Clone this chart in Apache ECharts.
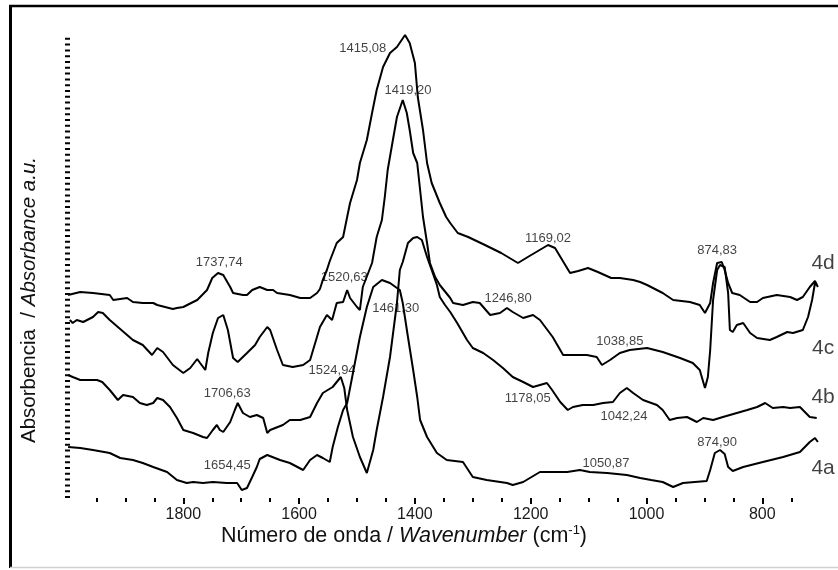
<!DOCTYPE html>
<html><head><meta charset="utf-8">
<script src="https://cdn.jsdelivr.net/npm/echarts@6/dist/echarts.min.js"></script>
<style>html,body{margin:0;padding:0;background:#fff}#c{width:838px;height:570px}</style>
</head><body><div id="c"></div>
<script>
const FONT = '"Liberation Sans", Arial, Helvetica, sans-serif';

// Wavenumbers (cm-1) and absorbance (a.u., offset stacked)
const wavenumber4d = [1999,1996,1978,1956,1927,1921,1897,1887,1870,1852,1845,1818,1811,1800,1783,1776,1759,1750,1740,1731,1719,1714,1697,1690,1681,1668,1655,1645,1638,1616,1598,1581,1569,1564,1559,1552,1547,1535,1524,1517,1512,1500,1495,1483,1474,1466,1455,1443,1431,1417,1409,1400,1395,1386,1379,1371,1357,1346,1339,1326,1308,1279,1251,1222,1205,1170,1158,1132,1118,1101,1084,1061,1046,1023,1011,999,972,954,925,908,899,890,885,878,870,865,859,852,839,821,809,799,775,752,740,730,718,709,704];
const absorbance4d = [2.03,2.05,2.06,2.05,2.03,1.98,2.00,1.96,1.95,1.95,1.93,1.89,1.90,1.91,1.96,1.98,2.08,2.20,2.25,2.23,2.11,2.05,2.03,2.03,2.08,2.11,2.08,2.08,2.05,2.03,2.00,2.00,2.05,2.09,2.18,2.28,2.37,2.55,2.61,2.81,2.95,3.18,3.35,3.58,3.85,4.08,4.31,4.45,4.51,4.63,4.55,4.35,4.01,3.68,3.35,3.15,2.95,2.81,2.75,2.65,2.61,2.53,2.45,2.35,2.41,2.53,2.50,2.25,2.27,2.30,2.26,2.20,2.20,2.18,2.16,2.13,2.05,1.98,1.96,1.93,1.85,1.95,2.15,2.35,2.36,2.28,2.15,2.05,2.03,1.96,1.96,2.00,2.03,2.01,1.98,2.01,2.11,2.17,2.11];

const wavenumber4c = [1996,1991,1984,1973,1956,1947,1939,1927,1897,1887,1870,1854,1845,1835,1818,1800,1788,1776,1771,1762,1757,1749,1740,1731,1723,1714,1706,1690,1676,1668,1655,1650,1638,1628,1611,1593,1581,1564,1552,1543,1535,1524,1517,1512,1500,1495,1490,1474,1466,1457,1452,1447,1438,1431,1421,1414,1409,1403,1396,1391,1386,1379,1374,1365,1357,1339,1334,1317,1300,1288,1270,1253,1241,1231,1213,1196,1184,1162,1144,1127,1103,1086,1077,1063,1046,1029,999,972,942,920,908,899,894,890,885,878,873,865,859,856,851,844,833,821,809,787,775,757,747,730,721,714,709,706];
const absorbance4c = [1.78,1.75,1.78,1.76,1.81,1.86,1.85,1.78,1.63,1.58,1.53,1.43,1.50,1.46,1.33,1.25,1.30,1.39,1.35,1.28,1.45,1.65,1.80,1.83,1.68,1.40,1.36,1.45,1.53,1.61,1.71,1.68,1.48,1.33,1.31,1.33,1.38,1.71,1.83,1.78,1.95,1.96,2.08,2.00,1.91,1.88,2.11,2.35,2.61,2.78,3.01,3.28,3.58,3.81,3.98,3.85,3.68,3.45,3.35,3.08,2.81,2.55,2.35,2.21,2.13,2.00,1.95,1.93,1.96,1.95,1.83,1.85,1.90,1.86,1.80,1.83,1.78,1.61,1.43,1.43,1.43,1.41,1.33,1.38,1.45,1.48,1.50,1.46,1.40,1.35,1.28,1.10,1.21,1.48,1.98,2.28,2.33,2.31,2.05,1.68,1.66,1.73,1.75,1.65,1.60,1.58,1.61,1.66,1.65,1.68,1.81,1.98,2.15,2.13];

const wavenumber4b = [1999,1991,1978,1949,1940,1927,1913,1904,1887,1875,1863,1852,1845,1835,1823,1811,1800,1783,1766,1759,1749,1742,1737,1731,1719,1711,1706,1697,1685,1673,1662,1655,1650,1628,1616,1598,1581,1569,1559,1542,1528,1522,1517,1507,1495,1483,1472,1466,1455,1443,1431,1426,1421,1412,1403,1396,1388,1379,1371,1362,1357,1348,1339,1327,1310,1300,1282,1265,1248,1231,1213,1196,1184,1172,1163,1149,1136,1127,1110,1092,1075,1058,1046,1034,1023,1006,982,972,960,947,930,913,902,885,868,844,826,809,795,782,764,752,735,718,706];
const absorbance4b = [1.23,1.21,1.18,1.18,1.16,1.08,0.98,1.03,1.01,0.95,0.93,0.95,1.00,0.98,0.91,0.80,0.68,0.65,0.61,0.60,0.68,0.73,0.68,0.66,0.76,0.88,0.95,0.85,0.81,0.83,0.80,0.65,0.68,0.73,0.78,0.78,0.81,0.95,1.05,1.11,1.21,1.10,0.88,0.61,0.41,0.25,0.48,0.68,1.01,1.41,1.95,2.28,2.36,2.55,2.60,2.61,2.58,2.41,2.28,2.13,2.01,1.93,1.86,1.75,1.58,1.50,1.45,1.38,1.30,1.21,1.16,1.11,1.13,1.15,1.08,0.96,0.88,0.91,0.93,0.93,0.95,0.96,1.05,1.10,1.05,0.98,0.93,0.88,0.78,0.80,0.81,0.76,0.80,0.78,0.81,0.85,0.88,0.91,0.95,0.90,0.91,0.90,0.91,0.81,0.80];

const wavenumber4a = [1999,1978,1956,1927,1909,1887,1870,1852,1828,1811,1794,1783,1766,1749,1725,1707,1699,1690,1681,1673,1668,1655,1633,1616,1593,1581,1569,1559,1547,1542,1533,1524,1517,1507,1495,1483,1472,1457,1443,1431,1426,1421,1412,1403,1396,1391,1379,1362,1345,1317,1300,1276,1241,1231,1213,1184,1162,1137,1115,1098,1068,1034,1011,992,972,954,937,896,890,882,873,865,859,851,833,799,764,735,718,709,704];
const absorbance4a = [0.51,0.50,0.48,0.45,0.40,0.38,0.35,0.31,0.26,0.18,0.15,0.16,0.15,0.16,0.15,0.15,0.08,0.10,0.21,0.31,0.39,0.43,0.38,0.35,0.28,0.38,0.43,0.40,0.36,0.51,0.71,0.88,0.95,1.25,1.61,1.91,2.11,2.18,2.15,2.10,2.08,1.95,1.61,1.28,1.01,0.78,0.61,0.45,0.38,0.36,0.21,0.18,0.15,0.13,0.16,0.26,0.26,0.26,0.28,0.26,0.25,0.23,0.20,0.18,0.16,0.11,0.15,0.17,0.28,0.45,0.48,0.44,0.31,0.27,0.31,0.36,0.41,0.46,0.56,0.60,0.56];

// Peak annotations
const peakLabels = ['1415,08','1419,20','1737,74','1520,63','1169,02','874,83','1461,30','1246,80','1038,85','1524,94','1706,63','1178,05','1042,24','1654,45','1050,87','874,90'];
const peakLabelWn = [1490,1412,1738,1522,1170,878,1433,1239,1046,1543,1724,1205,1039,1724,1070,878];
const peakLabelAb = [4.50,4.08,2.36,2.21,2.60,2.48,1.90,2.00,1.57,1.28,1.05,1.00,0.82,0.33,0.35,0.56];

// Spectrum names
const spectrumNames = ['4d','4c','4b','4a'];
const spectrumNameWn = [695,695,695,695];
const spectrumNameAb = [2.35,1.50,1.01,0.30];

// Axis ticks
const majorTicks = [800,1000,1200,1400,1600,1800];
const minorTicks = [750,850,900,950,1050,1100,1150,1250,1300,1350,1450,1500,1550,1650,1700,1750,1850,1900,1950];

const pairs = (x, y) => x.map((v, i) => [v, y[i]]);
const curves = [
  [wavenumber4d, absorbance4d],
  [wavenumber4c, absorbance4c],
  [wavenumber4b, absorbance4b],
  [wavenumber4a, absorbance4a]
];

const lineSeries = curves.map((c, i) => ({
  type: 'line', name: spectrumNames[i], data: pairs(c[0], c[1]),
  showSymbol: false, symbol: 'none', clip: false, silent: true,
  lineStyle: { color: '#000', width: 2 }
}));

const peakSeries = {
  type: 'scatter', symbolSize: 0, clip: false, silent: true,
  data: peakLabels.map((t, i) => [peakLabelWn[i], peakLabelAb[i], t]),
  label: { show: true, position: 'inside', formatter: p => p.data[2],
           fontSize: 13, color: '#111', fontFamily: FONT }
};
const nameSeries = {
  type: 'scatter', symbolSize: 0, clip: false, silent: true,
  data: spectrumNames.map((t, i) => [spectrumNameWn[i], spectrumNameAb[i], t]),
  label: { show: true, position: 'inside', formatter: p => p.data[2],
           fontSize: 21, color: '#111', fontFamily: FONT }
};

const chart = echarts.init(document.getElementById('c'), null, { renderer: 'canvas' });
chart.setOption({
  animation: false,
  backgroundColor: '#fff',
  grid: { left: 67.5, right: 17.8, top: 35, bottom: 72 },
  xAxis: [
    { type: 'value', min: 700, max: 2000, inverse: true, position: 'bottom',
      axisLine: { show: false }, splitLine: { show: false },
      axisTick: { show: true, customValues: majorTicks, length: 6, lineStyle: { color: '#000', width: 2 } },
      axisLabel: { customValues: majorTicks, formatter: v => String(v), fontSize: 16, color: '#1a1a1a', margin: 9, fontFamily: FONT } },
    { type: 'value', min: 700, max: 2000, inverse: true, position: 'bottom',
      axisLine: { show: false }, splitLine: { show: false },
      axisTick: { show: true, customValues: minorTicks, length: 4, lineStyle: { color: '#000', width: 2 } },
      axisLabel: { show: false } }
  ],
  yAxis: { type: 'value', min: 0, max: 4.63,
    axisLine: { show: true, lineStyle: { color: '#000', width: 5, type: [2, 3.8], cap: 'butt' } },
    axisTick: { show: false }, axisLabel: { show: false }, splitLine: { show: false } },
  series: lineSeries.concat([peakSeries, nameSeries]),
  graphic: [
    { type: 'line', silent: true, shape: { x1: 9, y1: 6, x2: 838, y2: 6 }, style: { stroke: '#000', lineWidth: 2.5 } },
    { type: 'line', silent: true, shape: { x1: 10.5, y1: 5, x2: 10.5, y2: 568 }, style: { stroke: '#000', lineWidth: 3 } },
    { type: 'line', silent: true, shape: { x1: 10, y1: 567.5, x2: 838, y2: 567.5 }, style: { stroke: '#d0d0d0', lineWidth: 1.5 } },
    { type: 'text', silent: true, x: 404, y: 536,
      style: { text: '{n|Número de onda / }{i|Wavenumber}{n| (cm}{s|-1}{n|)}',
        align: 'center', verticalAlign: 'middle', fill: '#111', fontFamily: FONT, fontSize: 21.5,
        rich: {
          n: { fontSize: 21.5, fontFamily: FONT, fill: '#111', lineHeight: 24 },
          i: { fontSize: 21.5, fontFamily: FONT, fontStyle: 'italic', fill: '#111', lineHeight: 24 },
          s: { fontSize: 13, fontFamily: FONT, fill: '#111', lineHeight: 13, verticalAlign: 'top' }
        } } },
    { type: 'text', silent: true, x: 29, y: 300, rotation: Math.PI / 2,
      style: { text: '{n|Absorbencia  / }{i|Absorbance a.u.}',
        align: 'center', verticalAlign: 'middle', fill: '#111', fontFamily: FONT, fontSize: 20.5,
        rich: {
          n: { fontSize: 20.5, fontFamily: FONT, fill: '#111' },
          i: { fontSize: 20.5, fontFamily: FONT, fontStyle: 'italic', fill: '#111' }
        } } }
  ]
});
</script></body></html>
